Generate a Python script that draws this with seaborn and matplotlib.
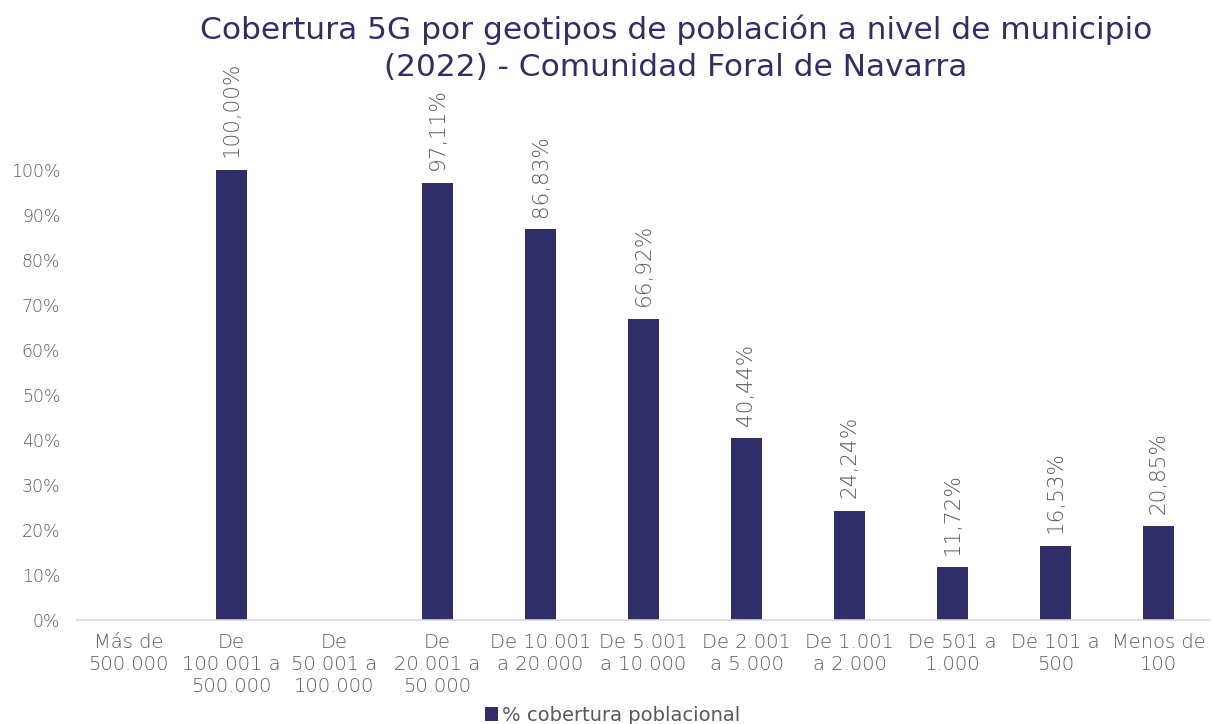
import numpy as np
import pandas as pd
import matplotlib
matplotlib.use("Agg")
import matplotlib.pyplot as plt
import seaborn as sns

categorias = ["Más de\n500.000", "De\n100.001 a\n500.000", "De\n50.001 a\n100.000",
              "De\n20.001 a\n50.000", "De 10.001\na 20.000", "De 5.001\na 10.000",
              "De 2.001\na 5.000", "De 1.001\na 2.000", "De 501 a\n1.000",
              "De 101 a\n500", "Menos de\n100"]
cobertura = [np.nan, 100.00, np.nan, 97.11, 86.83, 66.92, 40.44, 24.24, 11.72, 16.53, 20.85]
serie = "% cobertura poblacional"
titulo = ["Cobertura 5G por geotipos de población a nivel de municipio",
          "(2022) - Comunidad Foral de Navarra"]

# sin dato -> barra de altura 0
df = pd.DataFrame({"geotipo": categorias,
                   "valor": [0 if np.isnan(v) else v / 100 for v in cobertura]})

sns.set_style("white")
plt.rcParams['font.family'] = ['DejaVu Sans']

azul = "#2F2E69"
gris = "#595959"

fig = plt.figure(figsize=(12.13, 7.24), dpi=100)
ax = fig.add_axes([0.0635, 0.1436, 0.934, 0.746])

sns.barplot(data=df, x="geotipo", y="valor", color=azul, width=0.31,
            saturation=1, ax=ax, label=serie, linewidth=0)

etiquetas = ["" if np.isnan(v) else f"{v:.2f}%".replace(".", ",") for v in cobertura]
ax.bar_label(ax.containers[0], labels=etiquetas, rotation=90, padding=9,
             fontsize=15.5, color=gris, fontweight="light")

ax.set_ylim(0, 1.2)
ax.set_xlim(-0.5, len(categorias) - 0.5)
ax.set_yticks(np.arange(0, 1.01, 0.1))
ax.set_yticklabels([f"{int(round(t * 100))}%" for t in np.arange(0, 1.01, 0.1)])
ax.set_xlabel("")
ax.set_ylabel("")

for s in ["top", "right", "left"]:
    ax.spines[s].set_visible(False)
ax.spines["bottom"].set_color("#D9D9D9")
ax.spines["bottom"].set_linewidth(1.2)

ax.tick_params(axis="x", which="major", length=0, labelsize=14, labelcolor=gris, pad=9)
ax.tick_params(axis="y", length=0, labelsize=12.5, labelcolor=gris, pad=12)
ax.set_xticks(np.arange(-0.5, len(categorias), 1), minor=True)
ax.tick_params(axis="x", which="minor", length=6, color="#D9D9D9", width=1.2)
for lab in ax.get_xticklabels() + ax.get_yticklabels():
    lab.set_fontweight("light")

# título en dos líneas
fig.text(0.557, 1 - 30 / 724, titulo[0], ha="center", va="center", fontsize=22.5, color=azul)
fig.text(0.557, 1 - 67 / 724, titulo[1], ha="center", va="center", fontsize=22.5, color=azul)

if ax.legend_:
    ax.legend_.remove()
h, l = ax.get_legend_handles_labels()
fig.legend(h[:1], [serie], loc="center", bbox_to_anchor=(0.505, 0.012), frameon=False,
           fontsize=14, labelcolor=gris, handlelength=0.7, handleheight=0.7,
           handletextpad=0.2)

fig.savefig("out.png", dpi=100)
